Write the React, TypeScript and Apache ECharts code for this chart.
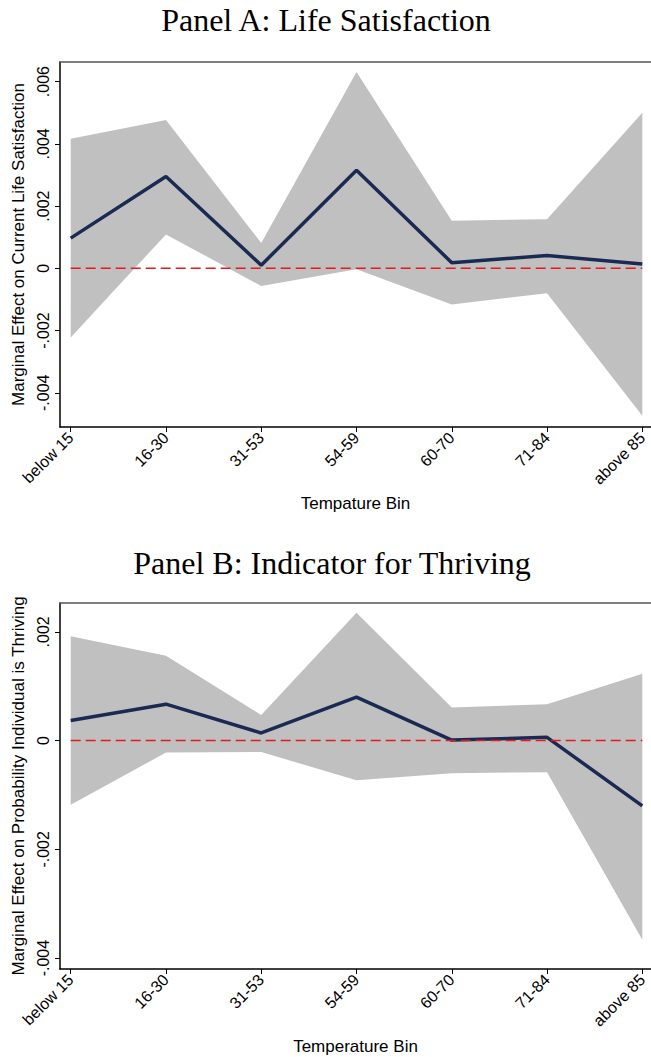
import React, { useEffect, useRef } from "react";
import * as echarts from "echarts";

// Temperature bins shared by both panels
const categories = ["below 15", "16-30", "31-53", "54-59", "60-70", "71-84", "above 85"];

// Panel A: marginal effect on current life satisfaction
const lifeEst = [0.00097, 0.00295, 0.0001, 0.00315, 0.00018, 0.00041, 0.00014];
const lifeUpper = [0.00416, 0.00477, 0.00081, 0.00631, 0.00153, 0.00158, 0.005];
const lifeLower = [-0.00222, 0.00109, -0.00057, -0.00003, -0.00116, -0.0008, -0.00474];

// Panel B: marginal effect on probability individual is thriving
const thriveEst = [0.00037, 0.00067, 0.00014, 0.0008, 0.00001, 0.00006, -0.0012];
const thriveUpper = [0.00192, 0.00156, 0.00047, 0.00235, 0.00061, 0.00067, 0.00123];
const thriveLower = [-0.00118, -0.00022, -0.00021, -0.00073, -0.0006, -0.00058, -0.00366];

// Tick values
const yTicksA = [-0.004, -0.002, 0, 0.002, 0.004, 0.006];
const yTicksB = [-0.004, -0.002, 0, 0.002];
const xTicks = [0, 1, 2, 3, 4, 5, 6];

const SANS = "Liberation Sans, Arial, Helvetica, sans-serif";
const SERIF = "Liberation Serif, Times New Roman, serif";

const fmtTick = (v: number) => {
  if (Math.abs(v) < 1e-12) return "0";
  return v.toFixed(3).replace(/^(-?)0\./, "$1.");
};

const xMin = -0.1123;
const xMax = 6.0913;

function bandSeries(upper: number[], lower: number[], idx: number) {
  return {
    type: "custom",
    xAxisIndex: idx * 2,
    yAxisIndex: idx,
    silent: true,
    z: 1,
    data: upper.map((u, i) => [i, u, lower[i]]),
    encode: { x: 0, y: [1, 2] },
    renderItem: (params: any, api: any) => {
      if (params.dataIndex !== 0) return null;
      const pts: number[][] = [];
      for (let i = 0; i < upper.length; i++) pts.push(api.coord([i, upper[i]]));
      for (let i = lower.length - 1; i >= 0; i--) pts.push(api.coord([i, lower[i]]));
      return { type: "polygon", shape: { points: pts }, style: { fill: "#c0c0c0" } };
    },
  };
}

function lineSeries(est: number[], idx: number) {
  return {
    type: "line",
    xAxisIndex: idx * 2,
    yAxisIndex: idx,
    z: 3,
    symbol: "none",
    data: est.map((v, i) => [i, v]),
    lineStyle: { color: "#1b2a52", width: 3.5 },
  };
}

function zeroSeries(idx: number) {
  return {
    type: "line",
    xAxisIndex: idx * 2,
    yAxisIndex: idx,
    z: 4,
    symbol: "none",
    data: categories.map((_, i) => [i, 0]),
    lineStyle: { color: "#e41a1c", width: 1.5, type: [10, 5] },
  };
}

function bottomAxis(idx: number, name: string, nameGap: number) {
  return {
    type: "value",
    gridIndex: idx,
    min: xMin,
    max: xMax,
    position: "bottom",
    name,
    nameLocation: "middle",
    nameGap,
    nameTextStyle: { fontFamily: SANS, fontSize: 17, color: "#000" },
    axisLine: { show: true, onZero: false, lineStyle: { color: "#000", width: 1.5 } },
    axisTick: { show: true, length: 5, customValues: xTicks, lineStyle: { color: "#000", width: 1 } },
    axisLabel: {
      customValues: xTicks,
      rotate: 45,
      margin: 8,
      fontFamily: SANS,
      fontSize: 16,
      color: "#000",
      formatter: (v: number) => categories[Math.round(v)] ?? "",
    },
    splitLine: { show: false },
  };
}

function topAxis(idx: number) {
  return {
    type: "value",
    gridIndex: idx,
    min: xMin,
    max: xMax,
    position: "top",
    axisLine: { show: true, onZero: false, lineStyle: { color: "#555", width: 1.5 } },
    axisTick: { show: false },
    axisLabel: { show: false },
    splitLine: { show: false },
  };
}

function leftAxis(idx: number, min: number, max: number, ticks: number[], name: string) {
  return {
    type: "value",
    gridIndex: idx,
    min,
    max,
    name,
    nameLocation: "middle",
    nameGap: 18,
    nameTextStyle: { fontFamily: SANS, fontSize: 17, color: "#000" },
    axisLine: { show: true, onZero: false, lineStyle: { color: "#000", width: 1.5 } },
    axisTick: { show: true, length: 5, customValues: ticks, lineStyle: { color: "#000", width: 1 } },
    axisLabel: {
      customValues: ticks,
      rotate: 90,
      margin: 9,
      fontFamily: SANS,
      fontSize: 16,
      color: "#000",
      formatter: (v: number) => fmtTick(v),
    },
    splitLine: { show: false },
  };
}

export default function App() {
  const ref = useRef<HTMLDivElement>(null);

  useEffect(() => {
    if (!ref.current) return;
    const chart = echarts.init(ref.current, undefined, { renderer: "svg" });
    chart.setOption({
      animation: false,
      backgroundColor: "#fff",
      grid: [
        { left: 60, top: 62, right: 0, height: 365 },
        { left: 60, top: 603, right: 0, height: 366 },
      ],
      xAxis: [
        bottomAxis(0, "Tempature Bin", 68),
        topAxis(0),
        bottomAxis(1, "Temperature Bin", 69),
        topAxis(1),
      ],
      yAxis: [
        leftAxis(0, -0.0051, 0.00663, yTicksA, "Marginal Effect on Current Life Satisfaction"),
        leftAxis(1, -0.0042, 0.00253, yTicksB, "Marginal Effect on Probability Individual is Thriving"),
      ],
      graphic: [
        {
          type: "text",
          x: 326,
          y: 4,
          style: {
            text: "Panel A: Life Satisfaction",
            fontFamily: SERIF,
            fontSize: 32,
            fill: "#000",
            align: "center",
            verticalAlign: "top",
          },
        },
        {
          type: "text",
          x: 332,
          y: 547,
          style: {
            text: "Panel B: Indicator for Thriving",
            fontFamily: SERIF,
            fontSize: 32,
            fill: "#000",
            align: "center",
            verticalAlign: "top",
          },
        },
      ],
      series: [
        bandSeries(lifeUpper, lifeLower, 0),
        lineSeries(lifeEst, 0),
        zeroSeries(0),
        bandSeries(thriveUpper, thriveLower, 1),
        lineSeries(thriveEst, 1),
        zeroSeries(1),
      ],
    });
    return () => chart.dispose();
  }, []);

  return (
    <div
      ref={ref}
      style={{ position: "absolute", left: 0, top: 0, width: 651, height: 1057 }}
    />
  );
}
